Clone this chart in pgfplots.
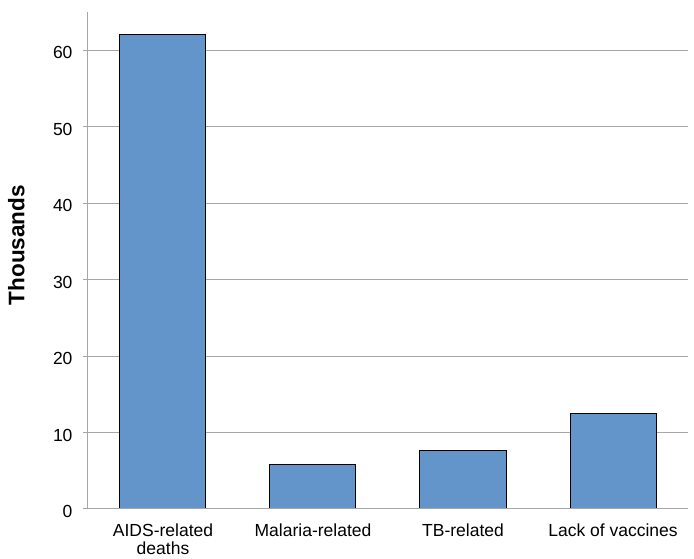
\documentclass[border=0pt]{standalone}
\usepackage{pgfplots}
\pgfplotsset{compat=1.18}
\usepackage{fontspec}
\setmainfont{Liberation Sans}
\definecolor{barblue}{HTML}{6395CA}
\definecolor{gridgray}{HTML}{A6A6A6}
\begin{document}
\begin{tikzpicture}[x=1bp,y=1bp]
\begin{axis}[
  name=ax,
  scale only axis,
  width=600bp, height=497bp,
  xmin=-0.5, xmax=3.5,
  ymin=0, ymax=65,
  ytick={0,10,20,30,40,50,60},
  xtick={0,1,2,3},
  xticklabels={AIDS-related\\deaths,Malaria-related,TB-related,Lack of vaccines},
  xticklabel style={align=center, font=\fontsize{17.5bp}{18.5bp}\selectfont, yshift=-6bp},
  yticklabel style={font=\fontsize{17.5bp}{20bp}\selectfont, yshift=-2.5bp, xshift=-7bp},
  /pgf/number format/assume math mode=true,
  ymajorgrids,
  grid style={gridgray, line width=1bp},
  axis x line=bottom,
  axis y line=left,
  axis line style={gridgray, line width=1bp, -},
  x axis line style={draw=none},
  major x tick style={draw=none},
  major y tick style={gridgray, line width=1bp},
  tick align=outside,
  major tick length=5bp,
  ylabel={Thousands},
  ylabel style={font=\fontsize{22.5bp}{24bp}\selectfont\bfseries, at={(axis description cs:-0.106,0.531)}, anchor=base},
  ybar, bar width=86bp,
  clip=false,
]
\addplot[fill=barblue, draw=black, line width=1bp] coordinates {(0,62.1) (1,5.8) (2,7.7) (3,12.5)};
\draw[gridgray, line width=1bp] (rel axis cs:0,0) -- (rel axis cs:1,0);
\end{axis}
\pgfresetboundingbox
\path ([xshift=-88bp,yshift=-50bp]ax.south west) rectangle ([xshift=6bp,yshift=12bp]ax.north east);
\end{tikzpicture}
\end{document}
